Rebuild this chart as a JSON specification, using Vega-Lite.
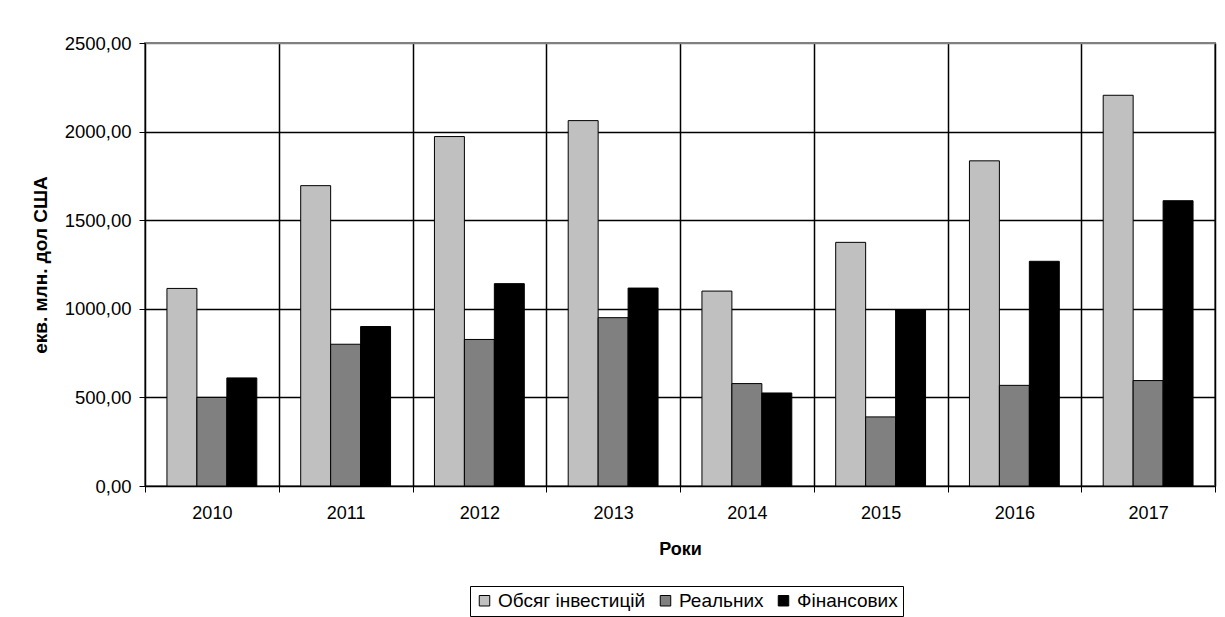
{
  "$schema": "https://vega.github.io/schema/vega-lite/v6.json",
  "width": 1070,
  "height": 443,
  "autosize": {"type": "none"},
  "padding": {"left": 145, "top": 43, "right": 10, "bottom": 131},
  "background": "white",
  "config": {
    "font": "Liberation Sans",
    "view": {"stroke": "#808080", "strokeWidth": 2},
    "axis": {"labelFont": "Liberation Sans", "titleFont": "Liberation Sans", "labelColor": "black", "titleColor": "black"}
  },
  "data": {
    "values": [
      {"year": "2010", "series": "Обсяг інвестицій", "value": 1115},
      {"year": "2010", "series": "Реальних", "value": 500},
      {"year": "2010", "series": "Фінансових", "value": 610},
      {"year": "2011", "series": "Обсяг інвестицій", "value": 1695},
      {"year": "2011", "series": "Реальних", "value": 800},
      {"year": "2011", "series": "Фінансових", "value": 900},
      {"year": "2012", "series": "Обсяг інвестицій", "value": 1972},
      {"year": "2012", "series": "Реальних", "value": 827},
      {"year": "2012", "series": "Фінансових", "value": 1142},
      {"year": "2013", "series": "Обсяг інвестицій", "value": 2062},
      {"year": "2013", "series": "Реальних", "value": 950},
      {"year": "2013", "series": "Фінансових", "value": 1117},
      {"year": "2014", "series": "Обсяг інвестицій", "value": 1100},
      {"year": "2014", "series": "Реальних", "value": 578},
      {"year": "2014", "series": "Фінансових", "value": 525},
      {"year": "2015", "series": "Обсяг інвестицій", "value": 1375},
      {"year": "2015", "series": "Реальних", "value": 390},
      {"year": "2015", "series": "Фінансових", "value": 995},
      {"year": "2016", "series": "Обсяг інвестицій", "value": 1835},
      {"year": "2016", "series": "Реальних", "value": 568},
      {"year": "2016", "series": "Фінансових", "value": 1268},
      {"year": "2017", "series": "Обсяг інвестицій", "value": 2205},
      {"year": "2017", "series": "Реальних", "value": 595},
      {"year": "2017", "series": "Фінансових", "value": 1610}
    ]
  },
  "mark": {"type": "bar", "stroke": "black", "strokeWidth": 1},
  "encoding": {
    "x": {
      "field": "year",
      "type": "nominal",
      "scale": {"paddingInner": 0, "paddingOuter": 0},
      "axis": {
        "title": "Роки",
        "titleFontSize": 18,
        "titleFontWeight": "bold",
        "titlePadding": 18,
        "labelFontSize": 18,
        "labelAngle": 0,
        "labelPadding": 12,
        "tickBand": "extent",
        "tickSize": 6,
        "tickColor": "black",
        "domainColor": "black",
        "grid": true,
        "gridColor": "black",
        "gridWidth": 1.5
      }
    },
    "xOffset": {
      "field": "series",
      "type": "nominal",
      "scale": {"paddingInner": 0, "paddingOuter": 0.733, "domain": ["Обсяг інвестицій", "Реальних", "Фінансових"]}
    },
    "y": {
      "field": "value",
      "type": "quantitative",
      "scale": {"domain": [0, 2500], "nice": false},
      "axis": {
        "title": "екв. млн. дол США",
        "titleFontSize": 19,
        "titleFontWeight": "bold",
        "titlePadding": 14,
        "values": [0, 500, 1000, 1500, 2000, 2500],
        "labelExpr": "replace(format(datum.value, '.2f'), '.', ',')",
        "labelFontSize": 18.5,
        "labelPadding": 8,
        "tickSize": 6,
        "tickColor": "black",
        "domainColor": "black",
        "grid": true,
        "gridColor": {"condition": {"test": "datum.value == 2500", "value": "#808080"}, "value": "black"},
        "gridWidth": 1.5
      }
    },
    "color": {
      "field": "series",
      "type": "nominal",
      "scale": {"domain": ["Обсяг інвестицій", "Реальних", "Фінансових"], "range": ["#C0C0C0", "#808080", "#000000"]},
      "legend": {
        "title": null,
        "orient": "none",
        "direction": "horizontal",
        "legendX": 325,
        "legendY": 543,
        "strokeColor": "black",
        "padding": 5,
        "labelFontSize": 19,
        "labelFont": "Liberation Sans",
        "labelColor": "black",
        "symbolType": "square",
        "symbolSize": 110,
        "symbolStrokeColor": "black",
        "symbolStrokeWidth": 1,
        "symbolOpacity": 1,
        "labelOffset": 4,
        "columnPadding": 10
      }
    }
  }
}
